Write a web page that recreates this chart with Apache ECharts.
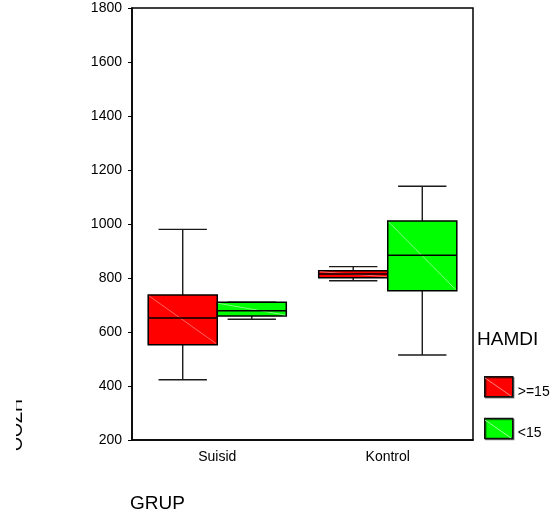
<!DOCTYPE html>
<html>
<head>
<meta charset="utf-8">
<script src="https://cdn.jsdelivr.net/npm/echarts@6/dist/echarts.min.js"></script>
<style>
html,body{margin:0;padding:0;background:#fff;}
#chart{width:550px;height:519px;}
</style>
</head>
<body>
<div id="chart"></div>
<script>
// ---- data ----
var categories = ['Suisid', 'Kontrol'];
var legendNames = ['>=15', '<15'];
// [min, Q1, median, Q3, max] per category
var hamdiHigh = [[423, 553, 652, 737, 980], [790, 801, 815, 827, 842]];
var hamdiLow  = [[647, 659, 679, 710, 710], [515, 753, 884, 1011, 1140]];
var yTicks = [200, 400, 600, 800, 1000, 1200, 1400, 1600, 1800];
var xTitle = 'GRUP';
var yTitle = 'OOZH';
var legendTitle = 'HAMDI';

var FONT = 'Liberation Sans, Arial, sans-serif';

function toRows(arr) {
  return arr.map(function (v, i) { return [i].concat(v); });
}

function makeRender(side, fill, diag) {
  return function (params, api) {
    var ci = api.value(0);
    var band = api.size([1, 0])[0];
    var bw = band * 0.405;
    var cx = api.coord([ci, 0])[0] + side * bw / 2;
    var yMin = api.coord([ci, api.value(1)])[1];
    var yQ1 = api.coord([ci, api.value(2)])[1];
    var yMed = api.coord([ci, api.value(3)])[1];
    var yQ3 = api.coord([ci, api.value(4)])[1];
    var yMax = api.coord([ci, api.value(5)])[1];
    var x0 = cx - bw / 2, x1 = cx + bw / 2;
    var cap = bw * 0.35;
    var ls = { stroke: '#1a1a1a', lineWidth: 1.4 };
    return {
      type: 'group',
      children: [
        { type: 'line', shape: { x1: cx, y1: yMax, x2: cx, y2: yQ3 }, style: ls },
        { type: 'line', shape: { x1: cx, y1: yQ1, x2: cx, y2: yMin }, style: ls },
        { type: 'line', shape: { x1: cx - cap, y1: yMax, x2: cx + cap, y2: yMax }, style: ls },
        { type: 'line', shape: { x1: cx - cap, y1: yMin, x2: cx + cap, y2: yMin }, style: ls },
        { type: 'rect', shape: { x: x0, y: yQ3, width: bw, height: yQ1 - yQ3 },
          style: { fill: fill, stroke: '#000', lineWidth: 1.5 } },
        { type: 'line', shape: { x1: x0 + 1, y1: yQ3 + 1, x2: x1 - 1, y2: yQ1 - 1 },
          style: { stroke: diag, lineWidth: 1 } },
        { type: 'line', shape: { x1: x0, y1: yMed, x2: x1, y2: yMed },
          style: { stroke: '#000', lineWidth: 1.5 } }
      ]
    };
  };
}

var chart = echarts.init(document.getElementById('chart'), null, { renderer: 'canvas' });
chart.setOption({
  animation: false,
  backgroundColor: '#fff',
  title: {
    text: legendTitle, left: 477, top: 330, padding: 0,
    textStyle: { fontFamily: FONT, fontSize: 19, fontWeight: 'normal', color: '#000' }
  },
  legend: {
    orient: 'vertical', left: 484, top: 376, padding: 0,
    data: legendNames,
    icon: 'rect', itemWidth: 28, itemHeight: 20, itemGap: 19,
    itemStyle: { borderColor: '#111', borderWidth: 1.5,
      shadowColor: 'rgba(0,0,0,0.45)', shadowOffsetX: 1, shadowOffsetY: 1, shadowBlur: 0 },
    formatter: '{a|{name}}',
    textStyle: { fontFamily: FONT, fontSize: 14, color: '#000',
      rich: { a: { fontFamily: FONT, fontSize: 14, color: '#000', padding: [10, 0, 0, 0] } } },
    selectedMode: false
  },
  grid: {
    left: 132, right: 77, top: 8, bottom: 79,
    show: true, borderColor: '#000', borderWidth: 1.5, backgroundColor: 'transparent'
  },
  xAxis: {
    type: 'category', data: categories, boundaryGap: true,
    axisLine: { lineStyle: { color: '#000', width: 1.5 } },
    axisTick: { alignWithLabel: true, length: 4, lineStyle: { color: '#000' } },
    axisLabel: { fontFamily: FONT, fontSize: 14, color: '#000', margin: 10 },
    splitLine: { show: false },
    name: xTitle, nameLocation: 'start', nameGap: 0,
    nameTextStyle: { fontFamily: FONT, fontSize: 19, color: '#000', align: 'left', verticalAlign: 'top',
      padding: [54, 0, 0, -2] }
  },
  yAxis: {
    type: 'value', min: yTicks[0], max: yTicks[yTicks.length - 1], interval: 200,
    axisLine: { show: true, lineStyle: { color: '#000', width: 1.5 } },
    axisTick: { show: true, length: 4, lineStyle: { color: '#000' } },
    axisLabel: { fontFamily: FONT, fontSize: 14, color: '#000', margin: 10,
      formatter: function (v) { return String(v); } },
    splitLine: { show: false }
  },
  graphic: [
    { type: 'text', x: 26, y: 451, rotation: Math.PI / 2, z: 10,
      style: { text: yTitle, font: '18px ' + FONT, fill: '#000', textAlign: 'left', textVerticalAlign: 'bottom' } },
    { type: 'rect', shape: { x: 0, y: 380, width: 16, height: 80 }, z: 11,
      style: { fill: '#fff' } },
    { type: 'line', shape: { x1: 485, y1: 378, x2: 511, y2: 396 }, z: 20, style: { stroke: 'rgba(255,160,160,0.8)', lineWidth: 1 } },
    { type: 'line', shape: { x1: 485, y1: 420, x2: 511, y2: 438 }, z: 20, style: { stroke: 'rgba(170,255,170,0.9)', lineWidth: 1 } }
  ],
  series: [
    {
      name: legendNames[0], type: 'custom',
      renderItem: makeRender(-1, '#ff0000', 'rgba(255,140,140,0.7)'),
      itemStyle: { color: '#ff0000' },
      encode: { x: 0, y: [1, 2, 3, 4, 5] },
      data: toRows(hamdiHigh)
    },
    {
      name: legendNames[1], type: 'custom',
      renderItem: makeRender(1, '#00ff00', 'rgba(160,255,160,0.8)'),
      itemStyle: { color: '#00ff00' },
      encode: { x: 0, y: [1, 2, 3, 4, 5] },
      data: toRows(hamdiLow)
    }
  ]
});
</script>
</body>
</html>
